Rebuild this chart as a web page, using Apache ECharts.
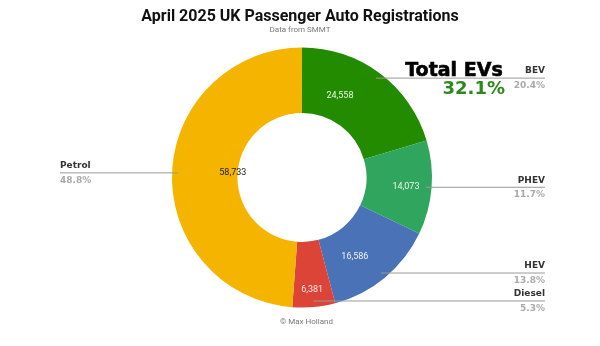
<!DOCTYPE html>
<html>
<head>
<meta charset="utf-8">
<script src="https://cdn.jsdelivr.net/npm/echarts@6/dist/echarts.min.js"></script>
<style>
  html, body { margin: 0; padding: 0; background: #fff; }
  #chart { width: 600px; height: 346px; }
</style>
</head>
<body>
<div id="chart"></div>
<script>
// April 2025 UK passenger car registrations by fuel type (SMMT)
const fuelTypes = ['BEV', 'PHEV', 'HEV', 'Diesel', 'Petrol'];
const registrations = [24558, 14073, 16586, 6381, 58733];
const evTypes = ['BEV', 'PHEV'];

// styling per slice
const sliceColors = ['#238b00', '#2fa55e', '#4a72b6', '#db4437', '#f4b400'];
const valueLabelColors = ['#eef7ea', '#eef7ea', '#edf1fa', '#fbe8e6', '#222222'];
const valueLabelNudge = [[-22, -1], [4, 1], [-11, 2], [1, 12], [31, -1]];

const total = registrations.reduce((a, b) => a + b, 0);
const pct = v => (v / total * 100).toFixed(1);
const evShare = fuelTypes.reduce((s, f, i) => evTypes.includes(f) ? s + registrations[i] : s, 0);

const center = ['50.33%', '51.3%'];
const calloutFont = '"DejaVu Sans", sans-serif';

const chart = echarts.init(document.getElementById('chart'), null, { renderer: 'canvas' });

chart.setOption({
  animation: false,
  backgroundColor: '#ffffff',
  title: {
    text: 'April 2025 UK Passenger Auto Registrations',
    subtext: 'Data from SMMT',
    left: 'center',
    top: 4,
    itemGap: 1,
    textStyle: { fontFamily: 'Roboto', fontWeight: 'bold', fontSize: 16, color: '#111' },
    subtextStyle: { fontFamily: 'Roboto', fontSize: 8, color: '#777' }
  },
  graphic: [
    {
      type: 'text', right: 97, top: 61,
      style: { text: 'Total EVs', font: 'bold 19px "DejaVu Sans", sans-serif', fill: '#000', stroke: '#000', lineWidth: 0.6 },
      z: 100
    },
    {
      type: 'text', right: 95, top: 80,
      style: { text: pct(evShare) + '%', font: 'bold 18px "DejaVu Sans", sans-serif', fill: '#2c8a1c' },
      z: 100
    },
    {
      type: 'text', left: 280, top: 318,
      style: { text: '\u00a9 Max Holland', font: '8px Roboto, sans-serif', fill: '#777' }
    }
  ],
  series: [
    {
      // donut with the registration counts inside each slice
      type: 'pie',
      center: center,
      radius: [64.5, 130],
      startAngle: 90,
      clockwise: true,
      silent: true,
      data: fuelTypes.map((f, i) => ({
        name: f,
        value: registrations[i],
        itemStyle: { color: sliceColors[i] },
        label: { color: valueLabelColors[i], offset: valueLabelNudge[i] }
      })),
      label: {
        show: true,
        position: 'inside',
        fontFamily: 'Roboto',
        fontSize: 9,
        formatter: p => p.value.toLocaleString('en-US')
      },
      labelLine: { show: false }
    },
    {
      // transparent overlay carrying the name / share callouts
      type: 'pie',
      center: center,
      radius: [0, 124],
      startAngle: 90,
      clockwise: true,
      silent: true,
      z: 5,
      itemStyle: { color: 'rgba(0,0,0,0)' },
      data: fuelTypes.map((f, i) => ({
        name: f,
        value: registrations[i],
        label: f === 'Petrol' ? { edgeDistance: 60 } : {}
      })),
      label: {
        show: true,
        position: 'outer',
        alignTo: 'edge',
        edgeDistance: 55,
        distanceToLabelLine: 0,
        formatter: p => '{n|' + p.name + '}\n{p|' + pct(p.value) + '%}',
        rich: {
          n: { fontFamily: calloutFont, fontWeight: 'bold', fontSize: 9, color: '#333', lineHeight: 15 },
          p: { fontFamily: calloutFont, fontWeight: 'bold', fontSize: 9, color: '#aaa', lineHeight: 14 }
        }
      },
      labelLine: {
        show: true,
        length: 0,
        length2: 0,
        lineStyle: { color: '#999', width: 1 }
      },
      // run each leader line on under its label, between name and share
      labelLayout: function (params) {
        const pts = params.labelLinePoints;
        if (!pts || !pts.length) return {};
        const r = params.labelRect;
        const start = pts[0];
        const end = pts[pts.length - 1];
        const onRight = end[0] >= start[0];
        const x = onRight ? r.x + r.width : r.x;
        return { labelLinePoints: [start, [x, end[1]]] };
      }
    }
  ]
});
</script>
</body>
</html>
